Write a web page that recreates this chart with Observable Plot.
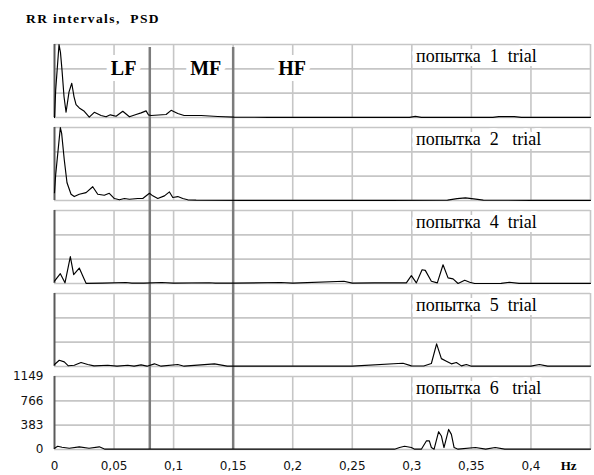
<!DOCTYPE html>
<html>
<head>
<meta charset="utf-8">
<script src="https://cdn.jsdelivr.net/npm/d3@7"></script>
<script src="https://cdn.jsdelivr.net/npm/@observablehq/plot@0.6"></script>
<style>
  body { margin: 0; background: #fff; }
  #title { height: 30px; position: relative; }
  #title span { position: absolute; left: 26px; top: 12px; font: bold 13.5px "Liberation Serif", serif; letter-spacing: 1.4px; line-height: 14px; white-space: pre; color: #000; }
</style>
</head>
<body>
<div id="title"><span>RR intervals,  PSD</span></div>
<div id="chart"></div>
<script>
// ---- data ----
const trials = ["1", "2", "4", "5", "6"];
const trialLabels = ["попытка\u00a0\u00a01\u00a0\u00a0trial", "попытка\u00a0\u00a02\u00a0\u00a0\u00a0trial", "попытка\u00a0\u00a04\u00a0\u00a0trial", "попытка\u00a0\u00a05\u00a0\u00a0trial", "попытка\u00a0\u00a06\u00a0\u00a0\u00a0trial"];

const f1 = [0, 0.001, 0.0038, 0.005, 0.0063, 0.008, 0.0097, 0.0122, 0.0145, 0.0164, 0.0181, 0.0208, 0.025, 0.0292, 0.0334, 0.0391, 0.0433, 0.0469, 0.0517, 0.0573, 0.0629, 0.0685, 0.0727, 0.0769, 0.0788, 0.0811, 0.0937, 0.0979, 0.1035, 0.1088, 0.1231, 0.1371, 0.1508, 0.1794, 0.22, 0.26, 0.298, 0.303, 0.308, 0.34, 0.368, 0.373, 0.386, 0.392, 0.42, 0.45];
const p1 = [0, 435, 1149, 1025, 745, 326, 82, 404, 539, 326, 202, 150, 98, 5, 82, 31, 11, 42, 20, 98, 11, 47, 73, 104, 42, 31, 47, 113, 62, 31, 31, 16, 5, 3, 3, 3, 3, 18, 3, 3, 3, 14, 14, 3, 3, 3];

const f2 = [0, 0.001, 0.0049, 0.006, 0.0082, 0.0105, 0.0139, 0.0166, 0.0208, 0.0265, 0.0321, 0.0363, 0.0418, 0.046, 0.0503, 0.0545, 0.0587, 0.0629, 0.0699, 0.0741, 0.0797, 0.0825, 0.0867, 0.0923, 0.0965, 0.0993, 0.1035, 0.1077, 0.1119, 0.1189, 0.16, 0.22, 0.28, 0.33, 0.338, 0.345, 0.352, 0.36, 0.4, 0.45];
const p2 = [124, 408, 1149, 1056, 641, 280, 98, 62, 98, 124, 217, 98, 82, 113, 31, 11, 31, 20, 31, 31, 113, 73, 31, 73, 135, 47, 62, 31, 11, 5, 3, 3, 3, 5, 30, 42, 25, 5, 3, 3];

const f4 = [0, 0.0049, 0.0088, 0.0133, 0.0161, 0.0208, 0.0245, 0.0265, 0.04, 0.06, 0.065, 0.075, 0.09, 0.1, 0.13, 0.135, 0.15, 0.19, 0.2, 0.243, 0.25, 0.2685, 0.2954, 0.2996, 0.3038, 0.3086, 0.3113, 0.3164, 0.3214, 0.3262, 0.3304, 0.3346, 0.3388, 0.3444, 0.3486, 0.3528, 0.375, 0.3819, 0.39, 0.45];
const p4 = [36, 155, 11, 424, 140, 243, 88, 3, 5, 15, 5, 5, 15, 5, 12, 5, 5, 15, 5, 36, 5, 11, 10, 124, 10, 217, 207, 36, 10, 295, 89, 73, 0, 51, 20, 0, 3, 20, 3, 3];

const f5 = [0, 0.004, 0.0082, 0.0116, 0.0166, 0.0223, 0.0279, 0.0332, 0.0447, 0.0525, 0.0615, 0.0668, 0.0727, 0.0777, 0.0839, 0.0895, 0.1035, 0.1088, 0.1343, 0.145, 0.2, 0.25, 0.2884, 0.2926, 0.2996, 0.31, 0.3164, 0.3208, 0.3248, 0.329, 0.3332, 0.3374, 0.3416, 0.3458, 0.35, 0.4, 0.4071, 0.414, 0.45];
const p5 = [31, 98, 73, 11, 20, 62, 31, 10, 20, 5, 20, 5, 26, 5, 42, 5, 31, 5, 42, 5, 5, 5, 47, 51, 10, 8, 47, 357, 124, 82, 42, 62, 10, 31, 5, 5, 31, 5, 5];

const f6 = [0, 0.0027, 0.0063, 0.0124, 0.0208, 0.029, 0.0376, 0.0424, 0.06, 0.08, 0.1, 0.15, 0.2, 0.25, 0.2855, 0.2897, 0.2939, 0.2996, 0.3024, 0.308, 0.3122, 0.3147, 0.3164, 0.3187, 0.3225, 0.3248, 0.327, 0.3309, 0.3332, 0.3355, 0.3388, 0.3534, 0.362, 0.37, 0.378, 0.4, 0.45];
const p6 = [20, 51, 36, 20, 42, 20, 42, 5, 5, 5, 5, 5, 5, 5, 5, 31, 51, 31, 5, 5, 135, 135, 31, 5, 280, 213, 31, 316, 238, 31, 5, 31, 5, 31, 5, 5, 5];

const xTicks = [0, 0.05, 0.1, 0.15, 0.2, 0.25, 0.3, 0.35, 0.4];
const xTickLabels = ["0", "0,05", "0,1", "0,15", "0,2", "0,25", "0,3", "0,35", "0,4"];
const xGrid = [0.05, 0.1, 0.15, 0.2, 0.25, 0.3, 0.35, 0.4, 0.45];
const yTicks = [0, 383, 766, 1149];
const yTickLabels = ["0", "383", "766", "1149"];
const bandEdges = [0.08, 0.15];
const bandNames = ["LF", "MF", "HF"];
const bandLabelX = [0.058, 0.127, 0.1995];

// ---- build tables ----
const series = [[f1, p1], [f2, p2], [f4, p4], [f5, p5], [f6, p6]];
const rows = series.flatMap(([f, p], k) => f.map((v, i) => ({trial: trials[k], f: v, p: p[i]})));
const labelRows = trials.map((t, i) => ({trial: t, label: trialLabels[i]}));
const edgeTop = bandEdges.map(x => ({x, trial: trials[0]}));
const edgeRest = trials.slice(1).flatMap(t => bandEdges.map(x => ({x, trial: t})));
const bandRows = bandNames.map((n, i) => ({name: n, x: bandLabelX[i], trial: trials[0]}));

const grid = {stroke: "#c6c6c6", strokeOpacity: 1, strokeWidth: 1.6};

const chart = Plot.plot({
  width: 594,
  height: 445,
  marginTop: 12,
  marginBottom: 23,
  marginLeft: 54,
  marginRight: 4,
  x: {domain: [0, 0.45]},
  y: {domain: [0, 1149]},
  fy: {domain: trials, paddingInner: 10 / 84, paddingOuter: 0, axis: null, label: null},
  style: {fontFamily: "DejaVu Sans, sans-serif", fontSize: "12px", color: "#111", background: "#fff"},
  marks: [
    Plot.gridX(xGrid, grid),
    Plot.gridY(yTicks, grid),
    Plot.ruleX([0], {stroke: "#5a5a5a", strokeWidth: 2}),
    Plot.ruleX(edgeTop, {x: "x", fy: "trial", stroke: "#7c7c7c", strokeWidth: 2.5, insetTop: 3}),
    Plot.ruleX(edgeRest, {x: "x", fy: "trial", stroke: "#7c7c7c", strokeWidth: 2.5, insetTop: -10}),
    Plot.line(rows, {x: "f", y: "p", fy: "trial", z: "trial", stroke: "#000", strokeWidth: 1.15}),
    Plot.text(labelRows, {
      x: () => 0.3035, fy: "trial", text: "label", frameAnchor: "top",
      textAnchor: "start", lineAnchor: "middle", dy: 12,
      fontFamily: "Liberation Serif, serif", fontSize: 18, fill: "#000",
      stroke: "#fff", strokeWidth: 8
    }),
    Plot.text(bandRows, {
      x: "x", y: () => 766, fy: "trial", text: "name",
      lineAnchor: "middle", fontFamily: "Liberation Serif, serif", fontSize: 20, fontWeight: "bold",
      fill: "#000", stroke: "#fff", strokeWidth: 12
    }),
    Plot.text(["Hz"], {
      x: () => 0.4316, fy: () => trials[trials.length - 1], frameAnchor: "bottom",
      lineAnchor: "middle", dy: 16, text: d => d,
      fontFamily: "Liberation Serif, serif", fontSize: 13, fontWeight: "bold", fill: "#000"
    }),
    Plot.axisX({ticks: xTicks, tickSize: 0, tickPadding: 12, label: null,
      tickFormat: d => xTickLabels[xTicks.indexOf(d)]}),
    Plot.axisY({ticks: yTicks, tickSize: 0, tickPadding: 11, label: null, facetAnchor: "bottom",
      tickFormat: d => yTickLabels[yTicks.indexOf(d)]})
  ]
});
document.getElementById("chart").appendChild(chart);
</script>
</body>
</html>
